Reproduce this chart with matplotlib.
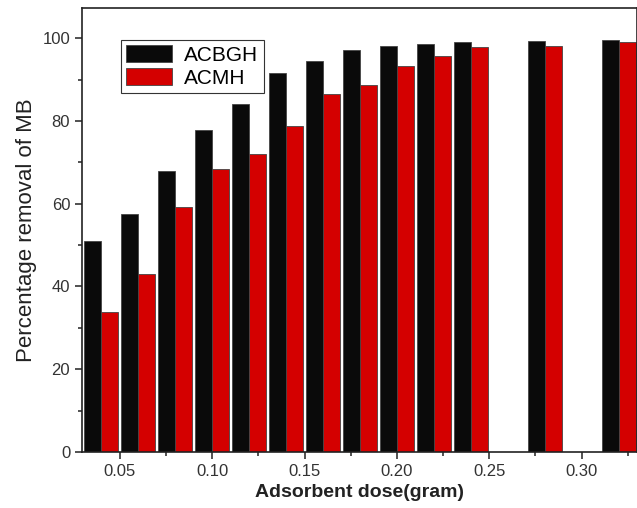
import matplotlib.pyplot as plt
from matplotlib.ticker import MultipleLocator

plt.rcParams['font.family'] = ['Liberation Sans', 'DejaVu Sans']

# adsorbent dose (gram) and % removal of MB
dose = [0.04, 0.06, 0.08, 0.10, 0.12, 0.14, 0.16, 0.18, 0.20, 0.22, 0.24, 0.28, 0.32]
acbgh = [51.1, 57.6, 67.8, 77.7, 84.0, 91.5, 94.5, 97.1, 98.2, 98.7, 99.0, 99.3, 99.5]
acmh = [33.9, 43.1, 59.3, 68.5, 71.9, 78.9, 86.5, 88.7, 93.4, 95.6, 97.9, 98.1, 99.1]

w = 0.0092

fig = plt.figure(figsize=(6.37, 5.08), dpi=100)
ax = fig.add_axes([82 / 637, 56 / 508, 555 / 637, 444 / 508])

ax.bar([d - w / 2 for d in dose], acbgh, width=w, color='#0a0a0a',
       edgecolor='#444444', linewidth=0.6, label='ACBGH')
ax.bar([d + w / 2 for d in dose], acmh, width=w, color='#d40000',
       edgecolor='#444444', linewidth=0.6, label='ACMH')

ax.set_xlim(0.0295, 0.33)
ax.set_ylim(0, 107.3)
ax.xaxis.set_minor_locator(MultipleLocator(0.025))
ax.yaxis.set_major_locator(MultipleLocator(20))
ax.yaxis.set_minor_locator(MultipleLocator(10))
ax.set_xticks([0.05, 0.10, 0.15, 0.20, 0.25, 0.30])
ax.set_xticklabels(['0.05', '0.10', '0.15', '0.20', '0.25', '0.30'])

ax.tick_params(which='major', direction='out', length=5, width=1.1,
               labelsize=12, colors='#222222', labelcolor='#333333')
ax.tick_params(which='minor', direction='out', length=3, width=1.1, colors='#222222')
for s in ax.spines.values():
    s.set_linewidth(1.2)
    s.set_color('#222222')

ax.set_xlabel('Adsorbent dose(gram)', fontsize=14, fontweight='bold', color='#222222')
ax.set_ylabel('Percentage removal of MB', fontsize=16, color='#222222')

leg = ax.legend(loc='upper left', bbox_to_anchor=(0.07, 0.928), borderaxespad=0,
                fontsize=15, fancybox=False, framealpha=1, edgecolor='#333333',
                handlelength=2.2, handleheight=0.9, borderpad=0.25,
                labelspacing=0.15, handletextpad=0.6)
leg.get_frame().set_linewidth(0.8)

fig.savefig('out.png', dpi=100)
